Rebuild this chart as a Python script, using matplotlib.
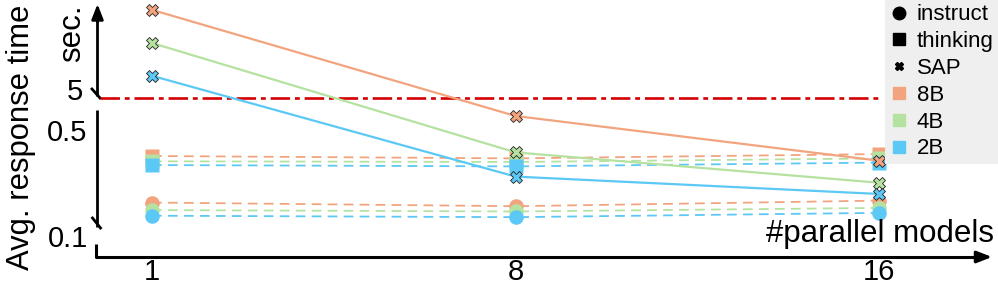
import numpy as np
import matplotlib
matplotlib.use("Agg")
import matplotlib.pyplot as plt
from matplotlib.lines import Line2D

plt.rcParams['font.family'] = ['Liberation Sans', 'DejaVu Sans']
plt.rcParams['lines.scale_dashes'] = False

# ---------------- data ----------------
parallel = ["1", "8", "16"]
sizes = ["8B", "4B", "2B"]
instruct = {"8B": [0.166, 0.157, 0.171],
            "4B": [0.148, 0.145, 0.153],
            "2B": [0.136, 0.133, 0.142]}
thinking = {"8B": [0.336, 0.324, 0.346],
            "4B": [0.310, 0.307, 0.324],
            "2B": [0.293, 0.287, 0.304]}
sap = {"8B": [19.0, 0.616, 0.313],
       "4B": [11.5, 0.355, 0.224],
       "2B": [7.0, 0.246, 0.189]}
yticks = [0.1, 0.5]
ybreak = 5
colors = {"8B": "#F2A47F", "4B": "#B5E2A0", "2B": "#5CC8F5"}

# ---------------- broken (piecewise log) y scale ----------------
P = 152.0          # px per decade in the lower/upper parts
LO_TOP = 0.65      # end of the lower log part
Y5 = 138.0         # position of 5 s (px above the 0.1 level)
FA = P * np.log10(LO_TOP / 0.1)
L5, LL = np.log10(5.0), np.log10(LO_TOP)


def fwd(v):
    v = np.clip(np.asarray(v, float), 1e-9, None)
    a = P * np.log10(v / 0.1)
    b = FA + (np.log10(v) - LL) / (L5 - LL) * (Y5 - FA)
    c = Y5 + P * np.log10(v / 5.0)
    return np.where(v <= LO_TOP, a, np.where(v <= 5.0, b, c))


def inv(f):
    f = np.asarray(f, float)
    a = 0.1 * 10 ** (f / P)
    b = 10 ** (LL + (f - FA) / (Y5 - FA) * (L5 - LL))
    c = 5.0 * 10 ** ((f - Y5) / P)
    return np.where(f <= FA, a, np.where(f <= Y5, b, c))


W, H = 998, 287
fig = plt.figure(figsize=(W / 100, H / 100), dpi=100)
ax = fig.add_axes([96 / W, 30 / H, 902 / W, 257 / H])
ax.set_yscale('function', functions=(fwd, inv))
x = np.arange(len(parallel))
ax.set_xlim((96 - 152) / 363.5, (998 - 152) / 363.5)
ax.set_ylim(float(inv(-21)), float(inv(236)))

for s in ax.spines.values():
    s.set_visible(False)

dash = (0, (7, 4.5))
for name in sizes:
    ax.plot(x, instruct[name], ls=dash, lw=1.3, color=colors[name],
            marker='o', ms=10.5, mec='none', zorder=2)
for name in sizes:
    ax.plot(x, thinking[name], ls=dash, lw=1.3, color=colors[name],
            marker='s', ms=10, mec='none', zorder=2)
for name in sizes:
    ax.plot(x, sap[name], ls='-', lw=1.6, color=colors[name],
            marker='X', ms=8.5, mec='#222222', mew=0.6, zorder=3)

ax.hlines(ybreak, -0.143, 2.003, colors='#D40000', lw=1.9,
          linestyles=[(0, (14, 3.5, 3.5, 3.5))], zorder=1)

ax.set_xticks(x)
ax.set_xticklabels(parallel, fontsize=21)
ax.set_yticks(yticks)
ax.set_yticklabels(["0.1", "0.5"], fontsize=21)
ax.tick_params(axis='both', length=0)
ax.tick_params(axis='y', pad=6)
ax.tick_params(axis='x', pad=1)
ax.minorticks_off()
ax.patch.set_alpha(0)
ax.annotate(str(ybreak), xy=(0, ybreak), xycoords=('axes fraction', 'data'),
            xytext=(-9, 4.5), textcoords='offset points', ha='right',
            va='center', fontsize=21)

# ---------------- decorations (pixel overlay) ----------------
ov = fig.add_axes([0, 0, 1, 1], zorder=-1)
ov.set_xlim(0, W)
ov.set_ylim(H, 0)
ov.axis('off')
k = 'black'
# x axis
ov.plot([96, 96, 982], [244, 257, 257], color=k, lw=2.2, solid_capstyle='butt')
ov.annotate('', xy=(992, 257), xytext=(975, 257),
            arrowprops=dict(arrowstyle='-|>,head_length=0.9,head_width=0.35',
                            color=k, lw=2.2, shrinkA=0, shrinkB=0))
# lower y axis segment
ov.plot([97.5, 97.5], [110, 227], color=k, lw=2, solid_capstyle='butt')
ov.plot([92.5, 100.5], [218, 228], color=k, lw=2)
# upper y axis segment
ov.plot([97.5, 97.5], [96, 16], color=k, lw=2, solid_capstyle='butt')
ov.plot([92, 100], [89, 98], color=k, lw=2)
ov.annotate('', xy=(97.5, 4), xytext=(97.5, 22),
            arrowprops=dict(arrowstyle='-|>,head_length=0.9,head_width=0.35',
                            color=k, lw=2, shrinkA=0, shrinkB=0))

fig.text(21 / W, 1 - 137 / H, "Avg. response time", rotation=90,
         ha='center', va='center', fontsize=22.3)
fig.text(72 / W, 1 - 33 / H, "sec.", rotation=90,
         ha='center', va='center', fontsize=22.5)
fig.text(994 / W, 1 - 242 / H, "#parallel models", ha='right',
         va='baseline', fontsize=22.5)

# ---------------- legend ----------------
handles = [
    Line2D([], [], ls='none', marker='o', ms=9, color='black', label='instruct'),
    Line2D([], [], ls='none', marker='s', ms=8.5, color='black', label='thinking'),
    Line2D([], [], ls='none', marker='X', ms=6, color='black', label='SAP'),
]
for name in sizes:
    handles.append(Line2D([], [], ls='none', marker='s', ms=9,
                          color=colors[name], label=name))
leg = fig.legend(handles=handles, loc='upper right', bbox_to_anchor=(1, 1),
                 bbox_transform=fig.transFigure, fontsize=16, frameon=True,
                 fancybox=False, facecolor='#EFEFEF', edgecolor='none',
                 framealpha=1, handlelength=0.85, handletextpad=0.36,
                 labelspacing=0.26, borderpad=0.2, borderaxespad=0)

fig.savefig("out.png", dpi=100)
